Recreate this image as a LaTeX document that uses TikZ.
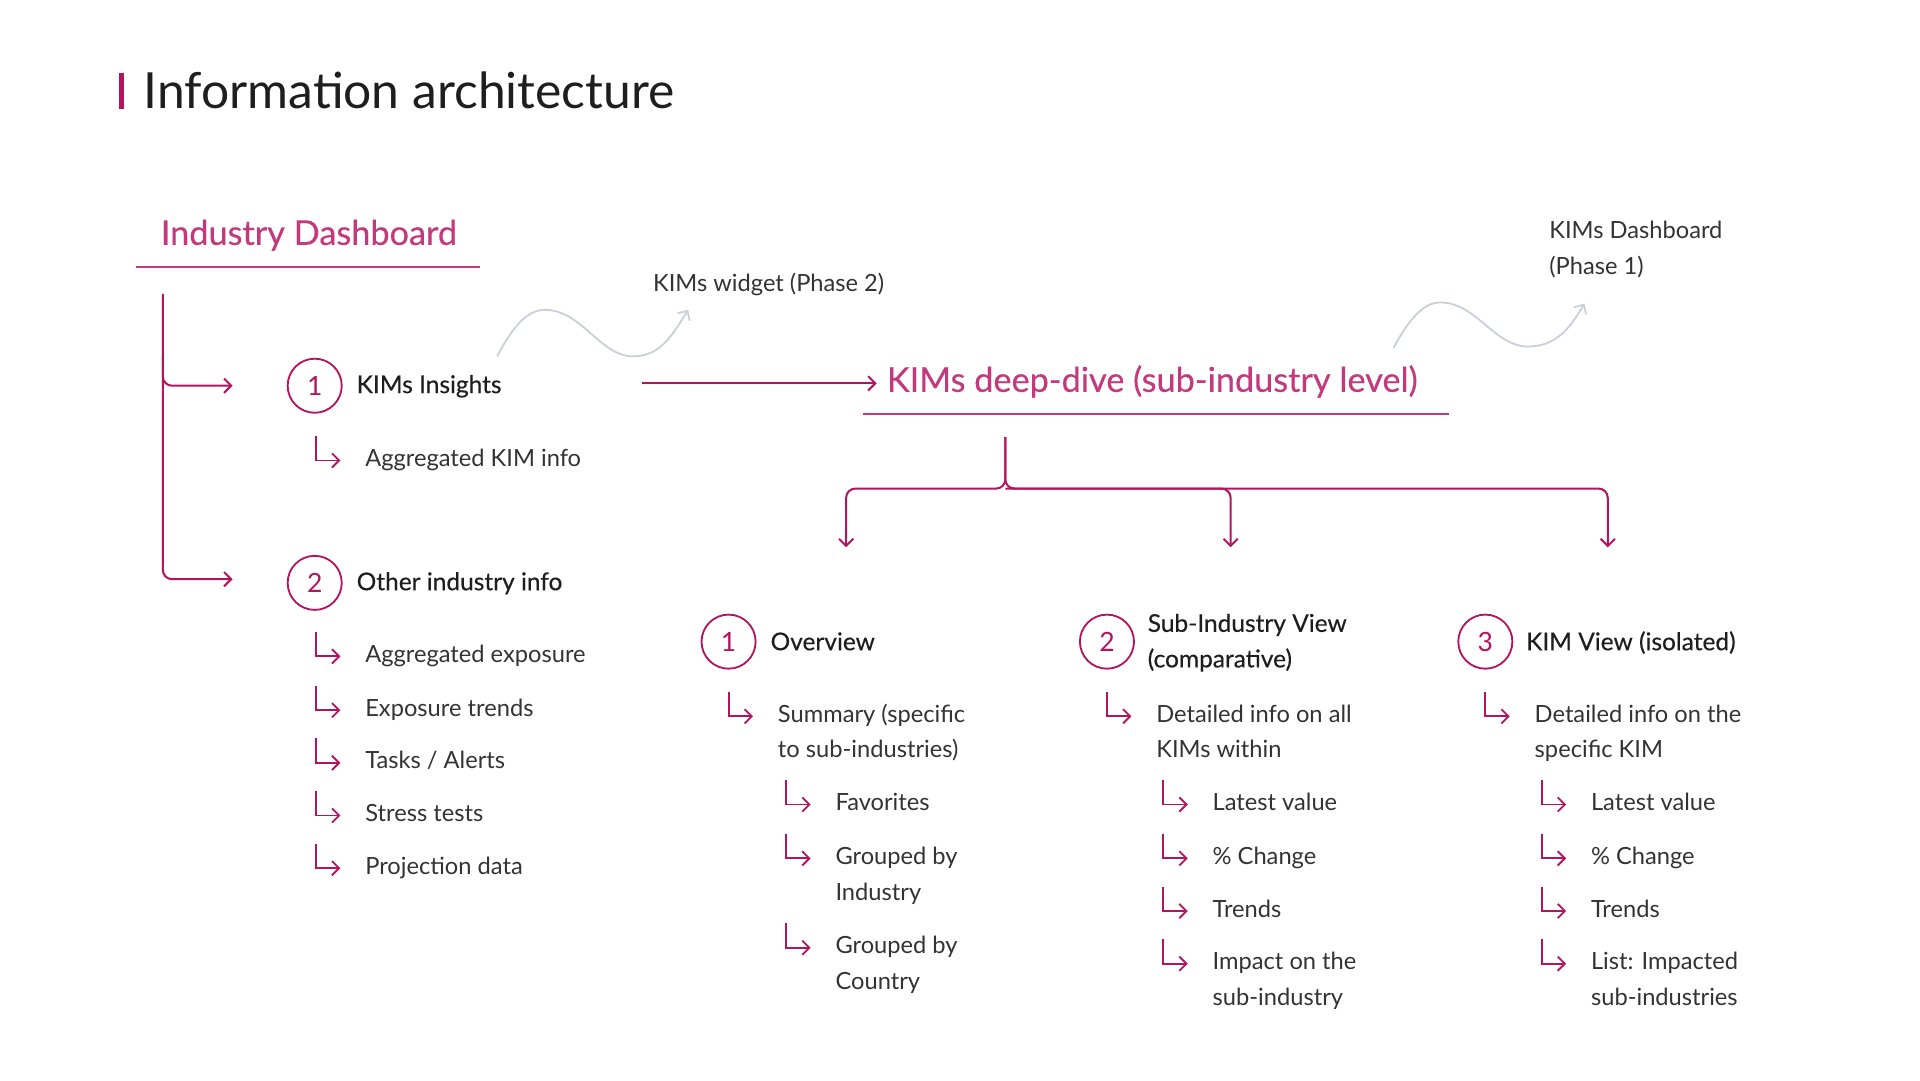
\documentclass[tikz,border=0pt]{standalone}
\usepackage{fontspec}
\setmainfont{Lato}
\newfontfamily\medfont{Lato}[FakeBold=0.35]
\usetikzlibrary{arrows.meta}
\definecolor{kimred}{HTML}{B3145F}
\definecolor{kimpink}{HTML}{C23A7D}
\definecolor{wavegray}{HTML}{CBD0D8}
\definecolor{inkdark}{HTML}{1E1E1E}
\definecolor{inkbody}{HTML}{333333}
\newcommand{\twoln}[2]{\begin{tabular}[t]{@{}l@{}}#1\\#2\end{tabular}}
\tikzset{
  titletxt/.style={inner sep=0pt, anchor=base west, text=inkdark, font=\fontsize{24.4}{28}\selectfont},
  headtxt/.style={inner sep=0pt, anchor=base west, text=kimpink, font=\medfont\fontsize{16.8}{20}\selectfont},
  itemtxt/.style={inner sep=0pt, anchor=base west, text=inkdark, font=\medfont\fontsize{12}{17.4}\selectfont},
  subtxt/.style={inner sep=0pt, anchor=base west, text=inkbody, font=\fontsize{11.6}{17.4}\selectfont},
  notetxt/.style={inner sep=0pt, anchor=base west, text=inkbody, font=\fontsize{11.6}{17.4}\selectfont},
  numcirc/.style={circle, draw=kimred, line width=0.9pt, minimum size=26.5pt, inner sep=0pt, text=kimred, font=\fontsize{13}{15}\selectfont},
  headline/.style={kimpink, line width=1pt},
  branch/.style={kimred, line width=1pt, rounded corners=4.5pt, -{Straight Barb[length=3.5pt,width=7pt]}},
  subline/.style={kimred, line width=0.9pt, -{Straight Barb[length=3.5pt,width=7pt]}},
  wave/.style={wavegray, line width=0.9pt, -{Straight Barb[length=3.5pt,width=7pt]}}
}
\newcommand{\kimsub}[3]{%
  \node[subtxt] (#1) at (#2) {#3};
  \draw[subline] ([shift={(-40,-25)}]#1.base west) |- ([shift={(-20,-5)}]#1.base west);}

\begin{document}
\begin{tikzpicture}[x=0.6pt,y=-0.6pt]
\useasboundingbox (0,0) rectangle (1568,882);
% title
\fill[kimred] (97.5,60) rectangle (101.5,89);
\node[titletxt] (title) at (117,89) {Information architecture};

% industry dashboard
\node[headtxt] (ind) at (131,200) {Industry Dashboard};
\draw[headline] (111,218) -- (392,218);
\coordinate (indroot) at (133,240);
\coordinate (r1) at (190,315);
\coordinate (r2) at (190,473);
\draw[branch] (indroot) |- (r2);
\draw[branch] (133,290) |- (r1);

\node[numcirc] (c1) at (257,315) {1};
\node[itemtxt] (kimins) at (291,321) {KIMs Insights};
\kimsub{agkim}{298,381}{Aggregated KIM info}

\node[numcirc] (c2) at (257,476) {2};
\node[itemtxt] (other) at (291,482) {Other industry info};
\kimsub{agexp}{298,541}{Aggregated exposure}
\kimsub{exptr}{298,585}{Exposure trends}
\kimsub{tasks}{298,628}{Tasks / Alerts}
\kimsub{stress}{298,671}{Stress tests}
\kimsub{proj}{298,714}{Projection data}

% phase notes
\node[notetxt] (widget) at (533,238) {KIMs widget (Phase 2)};
\coordinate (w1s) at (406,291);
\coordinate (w1e) at (562,253);
\draw[wave] (w1s) .. controls (418,268) and (430,253) .. (445,253) .. controls (475,253) and (490,291) .. (517,291) .. controls (540,291) and (550,272) .. (w1e);
\node[notetxt] (kdash) at (1265,195) {\twoln{KIMs Dashboard}{(Phase 1)}};
\coordinate (w2s) at (1138,284);
\coordinate (w2e) at (1294,248);
\draw[wave] (w2s) .. controls (1150,262) and (1162,247) .. (1176,247) .. controls (1206,247) and (1220,283) .. (1248,283) .. controls (1272,283) and (1283,266) .. (w2e);

% deep-dive
\coordinate (kiout) at (524,313);
\coordinate (ddin) at (716,313);
\draw[branch] (kiout) -- (ddin);
\node[headtxt] (dd) at (724,320) {KIMs deep-dive (sub-industry level)};
\draw[headline] (705,338) -- (1183,338);
\coordinate (ddroot) at (821,357);
\coordinate (hbar) at (821,399);
\coordinate (cv1) at (691,447);
\coordinate (cv2) at (1005,447);
\coordinate (cv3) at (1313,447);
\draw[branch] (ddroot) -- (hbar) -| (cv1);
\draw[branch] (ddroot) -- (hbar) -| (cv3);
\draw[branch] (hbar) -| (cv2);

% overview
\node[numcirc] (v1) at (595,524) {1};
\node[itemtxt] (over) at (629,531) {Overview};
\kimsub{summ}{635,590}{\twoln{Summary (specific}{to sub-industries)}}
\kimsub{fav}{682,662}{Favorites}
\kimsub{grind}{682,706}{\twoln{Grouped by}{Industry}}
\kimsub{grcty}{682,779}{\twoln{Grouped by}{Country}}

% sub-industry view
\node[numcirc] (v2) at (904,524) {2};
\node[itemtxt] (subv) at (937,516) {\twoln{Sub-Industry View}{(comparative)}};
\kimsub{detall}{944,590}{\twoln{Detailed info on all}{KIMs within}}
\kimsub{lat2}{990,662}{Latest value}
\kimsub{chg2}{990,706}{\% Change}
\kimsub{trd2}{990,749}{Trends}
\kimsub{imp2}{990,792}{\twoln{Impact on the}{sub-industry}}

% kim view
\node[numcirc] (v3) at (1213,524) {3};
\node[itemtxt] (kimv) at (1246,531) {KIM View (isolated)};
\kimsub{detkim}{1253,590}{\twoln{Detailed info on the}{specific KIM}}
\kimsub{lat3}{1299,662}{Latest value}
\kimsub{chg3}{1299,706}{\% Change}
\kimsub{trd3}{1299,749}{Trends}
\kimsub{imp3}{1299,792}{\twoln{List: Impacted}{sub-industries}}
\end{tikzpicture}
\end{document}
